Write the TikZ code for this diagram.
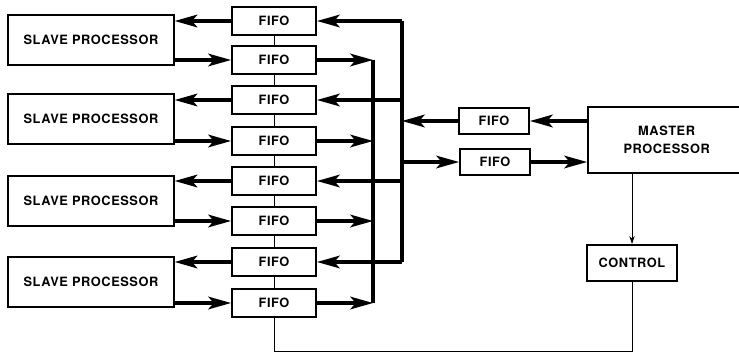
\documentclass[tikz,border=0pt]{standalone}
\usepackage{fontspec}
\setmainfont[LetterSpace=4.5]{TeX Gyre Heros}
\usepackage{tikz}
\usetikzlibrary{positioning,arrows.meta,calc}

\begin{document}
\begin{tikzpicture}[
    x=0.75pt, y=-0.75pt,
    font=\fontsize{9.6}{13.5}\selectfont\bfseries,
    box/.style={draw, line width=1.5pt, align=center, inner sep=0pt},
    slavebox/.style={box, minimum width=124pt, minimum height=37pt},
    fifobox/.style={box, minimum width=63pt, minimum height=20.5pt},
    mfifobox/.style={box, minimum width=52.5pt, minimum height=20pt},
    bus/.style={line width=2.3pt},
    op/.style={bus, -{Stealth[length=17pt, width=9.5pt, inset=4pt]}},
    thinline/.style={line width=0.6pt},
  ]
  \useasboundingbox (0,0) rectangle (739,353);

  % ---------- slave processors ----------
  \node[slavebox] (s1) at (91,40)  {SLAVE PROCESSOR};
  \node[slavebox] (s2) at (91,119) {SLAVE PROCESSOR};
  \node[slavebox] (s3) at (91,201) {SLAVE PROCESSOR};
  \node[slavebox] (s4) at (91,282) {SLAVE PROCESSOR};

  % ---------- fifo column ----------
  \node[fifobox] (f1) at (274,21)  {FIFO};
  \node[fifobox] (f2) at (274,60)  {FIFO};
  \node[fifobox] (f3) at (274,100) {FIFO};
  \node[fifobox] (f4) at (274,141) {FIFO};
  \node[fifobox] (f5) at (274,181) {FIFO};
  \node[fifobox] (f6) at (274,221) {FIFO};
  \node[fifobox] (f7) at (274,262) {FIFO};
  \node[fifobox] (f8) at (274,303) {FIFO};

  \draw[thinline] (f1) -- (f2) (f2) -- (f3) (f3) -- (f4) (f4) -- (f5)
                  (f5) -- (f6) (f6) -- (f7) (f7) -- (f8);

  % ---------- slave <-> fifo ----------
  \draw[op] (f1.west) -- (f1.west -| s1.east);
  \draw[op] (f2.west -| s1.east) -- (f2.west);
  \draw[op] (f3.west) -- (f3.west -| s2.east);
  \draw[op] (f4.west -| s2.east) -- (f4.west);
  \draw[op] (f5.west) -- (f5.west -| s3.east);
  \draw[op] (f6.west -| s3.east) -- (f6.west);
  \draw[op] (f7.west) -- (f7.west -| s4.east);
  \draw[op] (f8.west -| s4.east) -- (f8.west);

  % ---------- the two bus lines ----------
  \coordinate (ib) at (373,0);
  \coordinate (ob) at (402,0);

  \draw[bus] (f2.east -| ib) -- (f8.east -| ib);
  \draw[op] (f2.east) -- (f2.east -| ib);
  \draw[op] (f4.east) -- (f4.east -| ib);
  \draw[op] (f6.east) -- (f6.east -| ib);
  \draw[op] (f8.east) -- (f8.east -| ib);

  \draw[bus] (f1.east -| ob) -- (f7.east -| ob);
  \draw[op] (f1.east -| ob) -- (f1.east);
  \draw[op] (f3.east -| ob) -- (f3.east);
  \draw[op] (f5.east -| ob) -- (f5.east);
  \draw[op] (f7.east -| ob) -- (f7.east);

  % ---------- master side ----------
  \node[box, anchor=west, minimum width=118pt, minimum height=49pt,
        text width=100pt] (master) at (587,140) {MASTER\\PROCESSOR};
  \node[mfifobox] (ma) at (494,121) {FIFO};
  \node[mfifobox] (mb) at (495,162) {FIFO};

  \draw[op] (ma.east -| master.west) -- (ma.east);
  \draw[op] (ma.west) -- (ma.west -| ob);
  \draw[op] (mb.west -| ob) -- (mb.west);
  \draw[op] (mb.east) -- (mb.east -| master.west);

  % ---------- control ----------
  \node[box, minimum width=68pt, minimum height=27pt] (control) at (632,263) {CONTROL};
  \draw[thinline, -{Stealth[length=6pt, width=4pt]}] (master.south -| control) -- (control.north);

  \coordinate (loop) at (0,351);
  \draw[thinline] (control.south) |- (f8.south |- loop) -- (f8.south);

\end{tikzpicture}
\end{document}
